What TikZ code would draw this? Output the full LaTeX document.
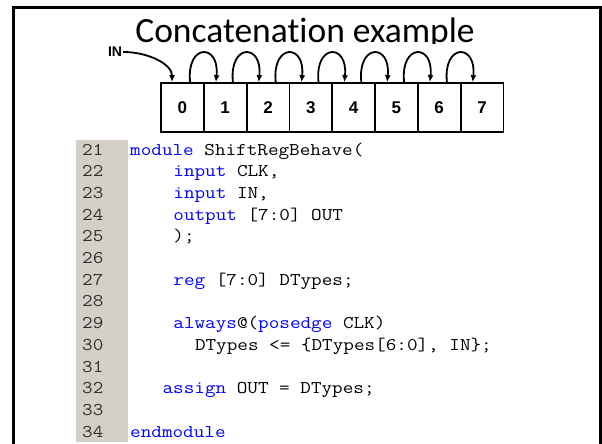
\documentclass[tikz,border=0pt]{standalone}
\usepackage{fontspec}
\setmainfont{Liberation Sans}
\newfontfamily\titlefont{Carlito}[Ligatures={NoCommon,NoDiscretionary,NoRare}]
\setmonofont{Latin Modern Mono}[FakeStretch=1.15]
\usetikzlibrary{arrows.meta}
\definecolor{kwblue}{HTML}{0000FF}
\definecolor{gutter}{HTML}{D4D0C8}
\definecolor{lnum}{HTML}{303030}
\newcommand\kw[1]{\textcolor{kwblue}{#1}}
\begin{document}
\begin{tikzpicture}[x=1pt,y=-1pt,
  cell/.style={draw,line width=1.8pt,minimum width=42.8pt,minimum height=49pt,inner sep=0pt,font=\fontsize{17}{17}\selectfont\bfseries},
  shiftarr/.style={line width=1.8pt,-{Latex[length=7pt,width=6pt]}},
  codeline/.style={anchor=base west,inner sep=0pt,font=\fontsize{17.9}{18}\ttfamily},
  numline/.style={codeline,text=lnum},
]
\useasboundingbox (0,0) rectangle (602,444);
\fill[white] (0,0) rectangle (602,444);
\draw[line width=2.7pt] (13.7,444) -- (13.7,7.5) -- (600.5,7.5) -- (600.5,444);
% title, clipped at the bottom like the reference
\begin{scope}
\clip (20,10) rectangle (590,44);
\node[anchor=base,inner sep=0pt,font=\fontsize{35.5}{36}\titlefont] (title) at (305,43) {Concatenation example};
\end{scope}
% register cells
\foreach \i in {0,...,7}
  \node[cell] (c\i) at ({161+42.8*(\i+0.5)},107.5) {\i};
\foreach \i [evaluate=\i as \j using int(\i+1)] in {0,...,6}
  \draw[shiftarr] ([xshift=30pt]c\i.north west) .. controls +(-4pt,39pt) and +(4pt,39pt) .. ([xshift=13pt]c\j.north west);
\node[font=\fontsize{14}{14}\selectfont\bfseries,inner sep=1pt] (in) at (115,52) {IN};
\draw[shiftarr] (in.east) .. controls +(25pt,0pt) and +(0pt,18pt) .. ([xshift=12pt]c0.north west);
% code listing
\fill[gutter] (76,140) rectangle (128,442);
\foreach \k in {21,...,34}
  \node[numline] (n\k) at (82,{155+(\k-21)*21.7}) {\k};
\node[codeline] (l21) at (130,155) {\kw{module} ShiftRegBehave(};
\node[codeline] (l22) at (173.2,176.7) {\kw{input} CLK,};
\node[codeline] (l23) at (173.2,198.4) {\kw{input} IN,};
\node[codeline] (l24) at (173.2,220.1) {\kw{output} [7:0] OUT};
\node[codeline] (l25) at (173.2,241.8) {);};
\node[codeline] (l27) at (173.2,285.2) {\kw{reg} [7:0] DTypes;};
\node[codeline] (l29) at (173.2,328.6) {\kw{always}@(\kw{posedge} CLK)};
\node[codeline] (l30) at (194.8,350.3) {DTypes <= \{DTypes[6:0], IN\};};
\node[codeline] (l32) at (162.4,393.7) {\kw{assign} OUT = DTypes;};
\node[codeline] (l34) at (130,437.1) {\kw{endmodule}};
\end{tikzpicture}
\end{document}
